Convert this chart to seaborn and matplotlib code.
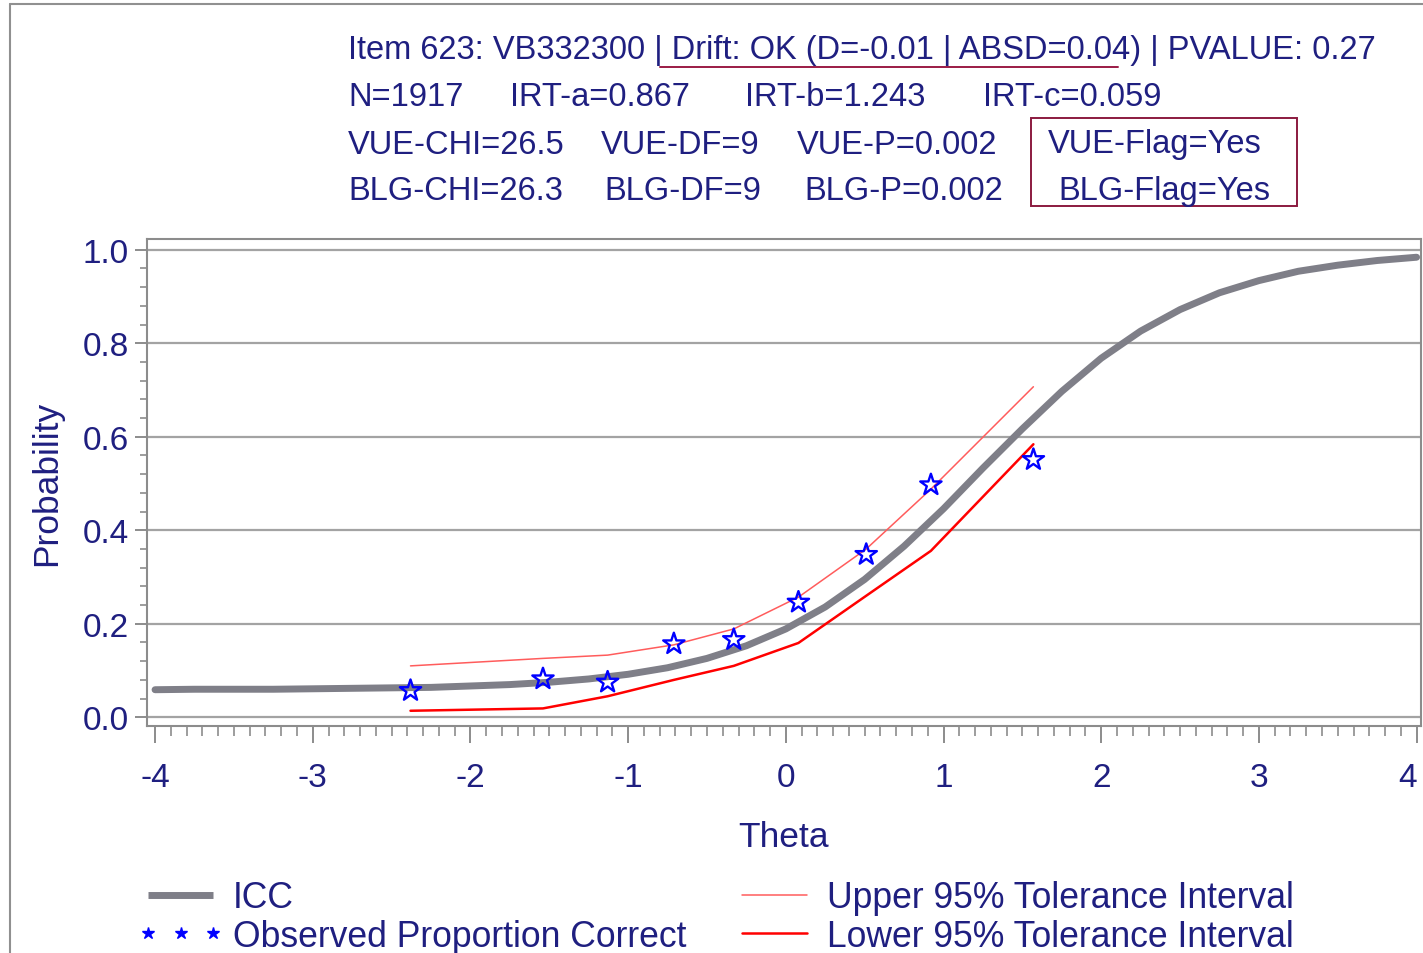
import numpy as np
import pandas as pd
import matplotlib
matplotlib.use("Agg")
import matplotlib.pyplot as plt
import seaborn as sns
from matplotlib.lines import Line2D
from matplotlib.patches import Rectangle
from matplotlib.ticker import MultipleLocator

# ---------- DATA ----------
icc_theta = [-4.0, -3.75, -3.5, -3.25, -3.0, -2.75, -2.5, -2.25, -2.0, -1.75,
             -1.5, -1.25, -1.0, -0.75, -0.5, -0.25, 0.0, 0.25, 0.5, 0.75,
             1.0, 1.25, 1.5, 1.75, 2.0, 2.25, 2.5, 2.75, 3.0, 3.25,
             3.5, 3.75, 4.0]
icc_prob = [0.059, 0.060, 0.060, 0.060, 0.061, 0.062, 0.063, 0.064, 0.067, 0.070,
            0.075, 0.082, 0.092, 0.106, 0.126, 0.153, 0.189, 0.236, 0.295, 0.366,
            0.446, 0.533, 0.617, 0.697, 0.768, 0.826, 0.872, 0.908, 0.934, 0.954,
            0.967, 0.977, 0.984]

obs_theta = [-2.38, -1.54, -1.13, -0.71, -0.33, 0.08, 0.51, 0.92, 1.57]
obs_prob = [0.057, 0.082, 0.075, 0.157, 0.166, 0.246, 0.348, 0.497, 0.551]
upper_prob = [0.110, 0.126, 0.133, 0.155, 0.189, 0.257, 0.360, 0.488, 0.707]
lower_prob = [0.014, 0.019, 0.045, 0.080, 0.110, 0.159, 0.260, 0.356, 0.584]

x_ticks = [-4, -3, -2, -1, 0, 1, 2, 3, 4]
y_ticks = [0.0, 0.2, 0.4, 0.6, 0.8, 1.0]

header_rows = [
    ["Item 623: VB332300 | Drift: OK (D=-0.01 | ABSD=0.04) | PVALUE: 0.27"],
    ["N=1917", "IRT-a=0.867", "IRT-b=1.243", "IRT-c=0.059"],
    ["VUE-CHI=26.5", "VUE-DF=9", "VUE-P=0.002", "VUE-Flag=Yes"],
    ["BLG-CHI=26.3", "BLG-DF=9", "BLG-P=0.002", "BLG-Flag=Yes"],
]
header_x = [[348], [348, 510, 745, 983], [348, 601, 797, 1048], [348, 604, 804, 1058]]
header_y = [48, 96, 143, 190]

legend_labels = ["ICC", "Observed Proportion Correct",
                 "Upper 95% Tolerance Interval", "Lower 95% Tolerance Interval"]

# ---------- STYLE ----------
sns.set_style("white")
plt.rcParams["font.family"] = ["Liberation Sans", "DejaVu Sans"]

NAVY = "#1f1f80"
GREY = "#7f7f88"
FRAME = "#8c8c8c"
W, H = 1423, 954

fig = plt.figure(figsize=(W / 100, H / 100), dpi=100)
ax = fig.add_axes([147 / W, 1 - 727 / H, (1421 - 147) / W, (727 - 240) / H])

icc = pd.DataFrame({"theta": icc_theta, "p": icc_prob})
obs = pd.DataFrame({"theta": obs_theta, "p": obs_prob,
                    "upper": upper_prob, "lower": lower_prob})

for yv in y_ticks:
    ax.axhline(yv, color="#a3a3a3", lw=1.6, zorder=0)

sns.lineplot(data=icc, x="theta", y="p", ax=ax, color=GREY, lw=5, zorder=2)
sns.lineplot(data=obs, x="theta", y="upper", ax=ax, color="#ff5c5c", lw=1.1, zorder=3)
sns.lineplot(data=obs, x="theta", y="lower", ax=ax, color="#ff0000", lw=1.8, zorder=3)
sns.scatterplot(data=obs, x="theta", y="p", ax=ax, marker="*", s=260,
                facecolor="none", edgecolor="#0000ff", linewidth=1.7, zorder=4)

ax.set_xlim(-4.051, 4.028)
ax.set_ylim(-0.0186, 1.023)
ax.set_xticks(x_ticks)
ax.set_xticklabels([str(t) for t in x_ticks])
ax.set_yticks(y_ticks)
ax.set_yticklabels([f"{t:.1f}" for t in y_ticks])
ax.xaxis.set_minor_locator(MultipleLocator(0.1))
ax.yaxis.set_minor_locator(MultipleLocator(0.04))

ax.tick_params(axis="both", which="both", direction="out", colors=FRAME,
               labelcolor=NAVY, labelsize=24, bottom=True, left=True)
ax.tick_params(axis="x", which="major", length=12, width=1.4, pad=14)
ax.tick_params(axis="x", which="minor", length=7, width=1.2)
ax.tick_params(axis="y", which="major", length=9, width=1.4, pad=4)
ax.tick_params(axis="y", which="minor", length=5, width=1.2)
# last x label pulled inside, as in the original
ax.get_xticklabels()[-1].set_ha("right")

for sp in ax.spines.values():
    sp.set_color(FRAME)
    sp.set_linewidth(1.5)

ax.set_xlabel("Theta", fontsize=25.5, color=NAVY)
ax.set_ylabel("Probability", fontsize=25.5, color=NAVY)
ax.xaxis.set_label_coords(0.5, -0.192)
ax.yaxis.set_label_coords(-0.066, 0.5)

# ---------- HEADER ----------
for row, xs, yc in zip(header_rows, header_x, header_y):
    for s, xp in zip(row, xs):
        fig.text(xp / W, 1 - (yc + 2) / H, s, fontsize=23.5, color=NAVY, va="center", ha="left")

fig.add_artist(Line2D([660 / W, 1118 / W], [1 - 68 / H, 1 - 68 / H],
                      color="#9b1b45", lw=1.4))
fig.add_artist(Rectangle((1031 / W, 1 - 207 / H), (1297 - 1031) / W, (207 - 119) / H,
                         fill=False, edgecolor="#8b1a3f", lw=1.4))

# figure border (top and left)
fig.add_artist(Line2D([10 / W, 1], [1 - 5 / H, 1 - 5 / H], color="#909090", lw=1.5))
fig.add_artist(Line2D([10 / W, 10 / W], [0, 1 - 5 / H], color="#909090", lw=1.5))

# ---------- LEGEND ----------
handles = [
    Line2D([], [], color=GREY, lw=5, solid_capstyle="butt"),
    Line2D([], [], ls="none", marker="*", color="#0000ff", markersize=9),
    Line2D([], [], color="#ff5c5c", lw=1.1),
    Line2D([], [], color="#ff0000", lw=1.8),
]
fig.legend(handles, legend_labels, loc="upper left", bbox_to_anchor=(137 / W, 1 - 881 / H),
           ncol=2, frameon=False, fontsize=25.6, labelcolor=NAVY, numpoints=3,
           handlelength=2.45, handletextpad=0.25, columnspacing=1.25,
           labelspacing=0.1, borderpad=0, borderaxespad=0)

fig.savefig("out.png", dpi=100)
